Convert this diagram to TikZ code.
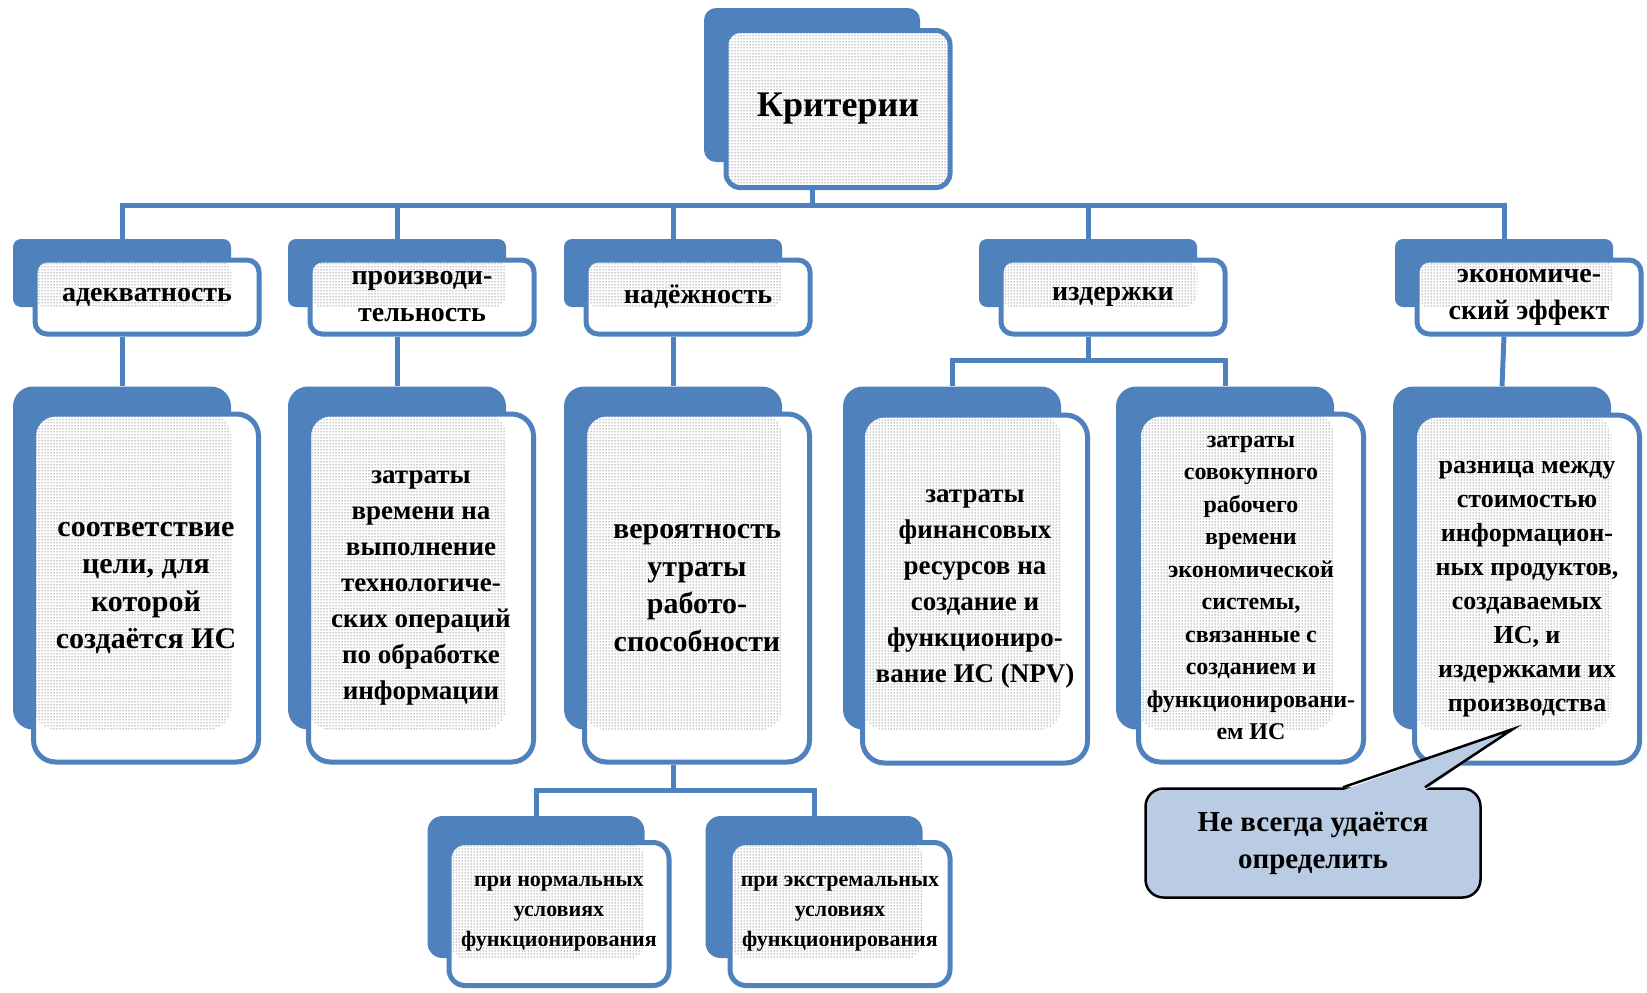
\documentclass[tikz,border=0pt]{standalone}
\usepackage{fontspec}
\setmainfont{Liberation Serif}
\usepackage{tikz}
\usetikzlibrary{positioning,patterns}
\definecolor{smblue}{HTML}{4F81BD}
\definecolor{notefill}{HTML}{B9CCE3}

\begin{document}
\begin{tikzpicture}[x=1pt, y=-1pt,
    tabback/.style={fill=smblue, inner sep=0pt, rounded corners=#1},
    tabfront/.style={draw=smblue, line width=5pt, fill=white, inner sep=0pt, align=center,
        path picture={\fill[pattern=dots, pattern color=black!85] (path picture bounding box.north west) rectangle (#1);}},
    twoback/.style={tabback=8pt, minimum width=218pt, minimum height=68pt},
    twofront/.style={tabfront=#1, rounded corners=12pt, minimum width=224pt, minimum height=74pt,
        font=\fontsize{28}{37}\selectfont\bfseries},
    threeback/.style={tabback=20pt, minimum width=218pt, minimum height=343pt},
    threefront/.style={tabfront=#1, rounded corners=22pt, minimum width=225pt, minimum height=348pt},
    fourback/.style={tabback=15pt, minimum width=217pt, minimum height=142pt},
    fourfront/.style={tabfront=#1, rounded corners=16pt, minimum width=220pt, minimum height=143pt,
        font=\fontsize{22}{30}\selectfont\bfseries},
    conn/.style={draw=smblue, line width=5pt}
  ]
  \useasboundingbox (0,0) rectangle (1647,993);

  \node[tabback=12pt, minimum width=216pt, minimum height=154pt] (critb) at (812,85) {};
  \node[tabfront=path picture bounding box.south east, rounded corners=14pt, minimum width=224pt,
    minimum height=157pt, font=\fontsize{36}{40}\selectfont\bfseries] (crit) at (838,109) {Критерии};

  \node[twoback] (adeqb) at (122,273) {};
  \node[twofront=adeqb.south east] (adeq) at (147,297) {адекватность};
  \node[twoback] (perfb) at (397,273) {};
  \node[twofront=perfb.south east] (perf) at (422,297) {производи-\\тельность};
  \node[twoback] (relb) at (673,273) {};
  \node[twofront=relb.south east] (rel) at (698,297) {надёжность};
  \node[twoback] (costb) at (1088,273) {};
  \node[twofront=costb.south east] (cost) at (1113,297) {издержки};
  \node[twoback] (econb) at (1504,273) {};
  \node[twofront=econb.south east] (econ) at (1529,297) {экономиче-\\ский эффект};

  \node[threeback] (adeqdb) at (122,558) {};
  \node[threefront=adeqdb.south east, font=\fontsize{30}{37.5}\selectfont\bfseries] (adeqd) at (146,588)
    {соответствие\\цели, для\\которой\\создаётся ИС};
  \node[threeback] (perfdb) at (397,558) {};
  \node[threefront=perfdb.south east, font=\fontsize{27}{36}\selectfont\bfseries] (perfd) at (421,588)
    {затраты\\времени на\\выполнение\\технологиче-\\ских операций\\по обработке\\информации};
  \node[threeback] (reldb) at (673,558) {};
  \node[threefront=reldb.south east, font=\fontsize{30}{37.5}\selectfont\bfseries] (reld) at (697,588)
    {вероятность\\утраты\\работо-\\способности};
  \node[threeback] (npvb) at (952,558) {};
  \node[threefront=npvb.south east, font=\fontsize{27}{36}\selectfont\bfseries] (npv) at (975,589)
    {затраты\\финансовых\\ресурсов на\\создание и\\функциониро-\\вание ИС (NPV)};
  \node[threeback] (worktimeb) at (1225,558) {};
  \node[threefront=worktimeb.south east, font=\fontsize{24}{32.5}\selectfont\bfseries] (worktime) at (1251,588)
    {затраты\\совокупного\\рабочего\\времени\\экономической\\системы,\\связанные с\\созданием и\\функционировани-\\ем ИС};
  \node[threeback] (econdb) at (1502,558) {};
  \node[threefront=econdb.south east, font=\fontsize{26}{34}\selectfont\bfseries] (econd) at (1527,589)
    {разница между\\стоимостью\\информацион-\\ных продуктов,\\создаваемых\\ИС, и\\издержками их\\производства};

  \node[fourback] (normb) at (536,887) {};
  \node[fourfront=normb.south east] (norm) at (559,914) {при нормальных\\условиях\\функционирования};
  \node[fourback] (extrb) at (814,887) {};
  \node[fourfront=extrb.south east] (extr) at (840,914) {при экстремальных\\условиях\\функционирования};

  \coordinate (bus) at (812,205);
  \draw[conn] (critb |- crit.south) -- (bus);
  \draw[conn] (adeqb.north) |- (bus) -| (econb.north);
  \foreach \n in {perfb, relb, costb}
    \draw[conn] (\n |- bus) -- (\n.north);

  \draw[conn] (adeqb |- adeq.south) -- (adeqdb.north);
  \draw[conn] (perfb |- perf.south) -- (perfdb.north);
  \draw[conn] (relb |- rel.south) -- (reldb.north);
  \draw[conn] (econb |- econ.south) -- (econdb.north);
  \coordinate (costsplit) at (1088,360);
  \draw[conn] (costb |- cost.south) -- (costsplit);
  \draw[conn] (npvb.north) |- (costsplit) -| (worktimeb.north);

  \coordinate (relsplit) at (673,790);
  \draw[conn] (reldb |- reld.south) -- (relsplit);
  \draw[conn] (normb.north) |- (relsplit) -| (extrb.north);

  \node[draw=black, line width=2.5pt, fill=notefill, rounded corners=18pt, minimum width=335pt,
    minimum height=109pt, align=center, font=\fontsize{29}{37}\selectfont\bfseries] (note) at (1313,843)
    {Не всегда удаётся\\определить};
  \coordinate (tip) at (1513,729);
  \fill[notefill] ([xshift=30pt,yshift=-3pt]note.north) -- (tip) -- ([xshift=112pt,yshift=-3pt]note.north) -- cycle;
  \draw[line width=2.5pt] ([xshift=30pt]note.north) -- (tip) -- ([xshift=112pt]note.north);
\end{tikzpicture}
\end{document}
